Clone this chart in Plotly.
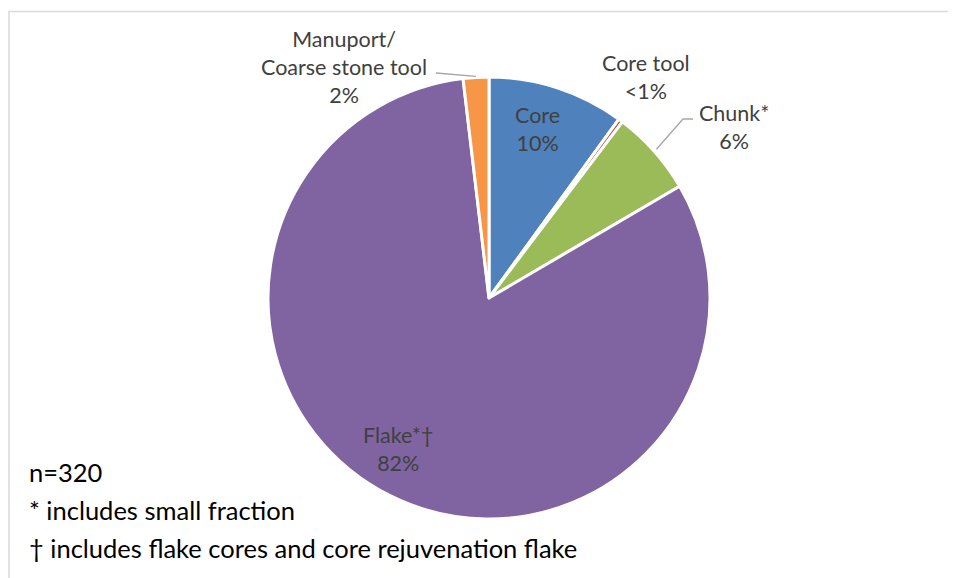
import math
import plotly.graph_objects as go

# ---- data ----
categories = ["Core", "Core tool", "Chunk*", "Flake*\u2020", "Manuport/<br>Coarse stone tool"]
counts = [32, 1, 20, 261, 6]
colors = ["#4F81BD", "#C0504D", "#9BBB59", "#8064A2", "#F79646"]
notes = ["n=320", "* includes small fraction", "\u2020 includes flake cores and core rejuvenation flake"]

OFF = 8  # default page body margin
W, H = 956 - OFF, 578 - OFF
CX, CY, R = 489, 298, 221  # pie centre / radius in window px

total = sum(counts)

def pct_text(c):
    p = 100 * c / total
    return "<1%" if p < 1 else f"{round(p)}%"

def px_to_paper(x, y):
    return (x - OFF) / W, 1 - (y - OFF) / H

dx0, dy1 = px_to_paper(CX - R, CY - R)
dx1, dy0 = px_to_paper(CX + R, CY + R)

fig = go.Figure(go.Pie(
    labels=categories,
    values=counts,
    sort=False,
    direction="clockwise",
    rotation=0,
    marker=dict(colors=colors, line=dict(color="white", width=3)),
    textinfo="none",
    hoverinfo="label+percent",
    showlegend=False,
    domain=dict(x=[dx0, dx1], y=[dy0, dy1]),
))

FONT = "Lato, Carlito, sans-serif"
label_pos = [(537, 129), (646, 77), (734, 127), (398, 449), (344, 67)]
annotations = []
for cat, c, (lx, ly) in zip(categories, counts, label_pos):
    x, y = px_to_paper(lx, ly)
    annotations.append(dict(
        x=x, y=y, xref="paper", yref="paper", xanchor="center", yanchor="middle",
        text=f"{cat}<br>{pct_text(c)}", showarrow=False,
        font=dict(family=FONT, size=21.5, color="#404040"),
    ))

note_y = [472, 510, 548]
for t, ny in zip(notes, note_y):
    x, y = px_to_paper(27, ny)
    annotations.append(dict(
        x=x, y=y, xref="paper", yref="paper", xanchor="left", yanchor="middle",
        text=t, showarrow=False,
        font=dict(family=FONT, size=25.5, color="#000000"),
    ))

def slice_mid_point(i, rr):
    start = sum(counts[:i])
    mid = (start + counts[i] / 2) / total * 2 * math.pi
    return CX + rr * math.sin(mid), CY - rr * math.cos(mid)

def path_of(pts):
    return "M " + " L ".join(f"{px_to_paper(a, b)[0]},{px_to_paper(a, b)[1]}" for a, b in pts)

shapes = []
sx, sy = slice_mid_point(2, R + 3)
shapes.append(dict(type="path", xref="paper", yref="paper",
                   path=path_of([(sx, sy), (683, 119), (693, 119)]),
                   line=dict(color="#A6A6A6", width=1.3)))
sx, sy = slice_mid_point(4, R + 1)
shapes.append(dict(type="path", xref="paper", yref="paper",
                   path=path_of([(sx, sy), (436, 73)]),
                   line=dict(color="#A6A6A6", width=1.3)))

bx0, by0 = px_to_paper(9, 11.5)
bx1, by1 = px_to_paper(980, 610)
shapes.append(dict(type="rect", xref="paper", yref="paper", x0=bx0, y0=by0, x1=bx1, y1=by1,
                   line=dict(color="#D9D9D9", width=1.5), fillcolor="rgba(0,0,0,0)"))

fig.update_layout(
    width=W, height=H,
    margin=dict(l=0, r=0, t=0, b=0),
    paper_bgcolor="white", plot_bgcolor="white",
    annotations=annotations, shapes=shapes,
)

fig.write_html("out.html")
